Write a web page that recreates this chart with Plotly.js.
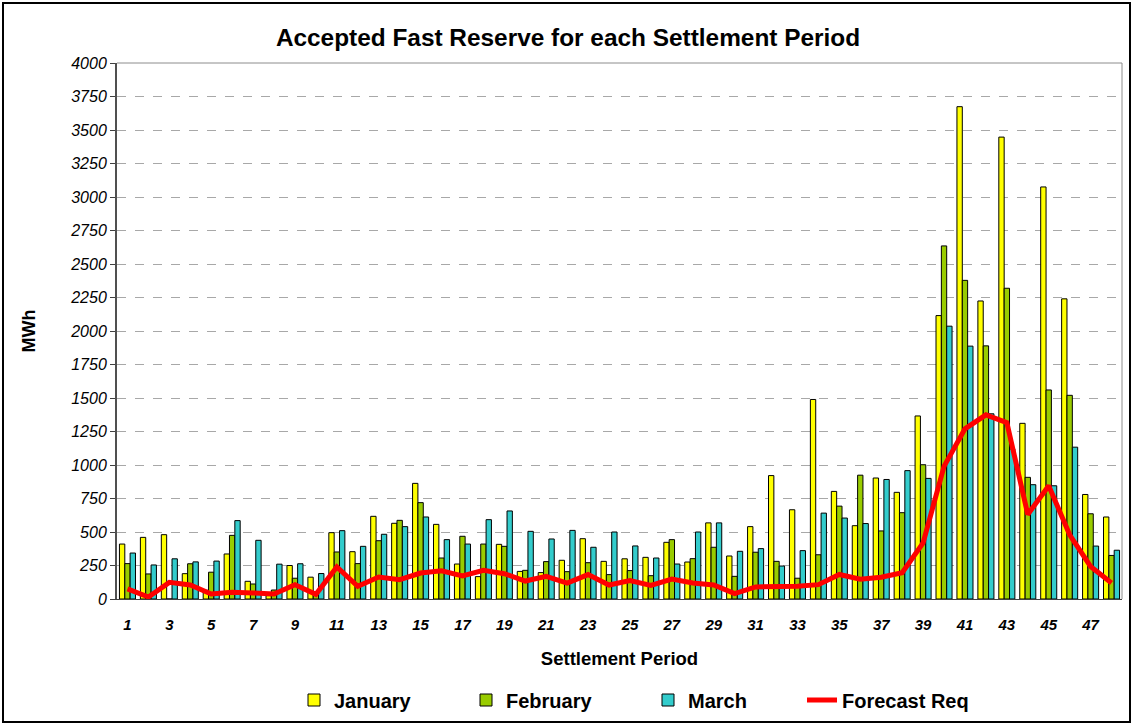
<!DOCTYPE html>
<html>
<head>
<meta charset="utf-8">
<script src="https://cdn.plot.ly/plotly-3.0.1.min.js"></script>
<style>
html,body{margin:0;padding:0;background:#fff;}
#chart{width:1132px;height:724px;}
</style>
</head>
<body>
<div id="chart"></div>
<script>
const periods = [1,2,3,4,5,6,7,8,9,10,11,12,13,14,15,16,17,18,19,20,21,22,23,24,25,26,27,28,29,30,31,32,33,34,35,36,37,38,39,40,41,42,43,44,45,46,47,48];
const tickPeriods = [1,3,5,7,9,11,13,15,17,19,21,23,25,27,29,31,33,35,37,39,41,43,45,47];
const tickLabels = ["1","3","5","7","9","11","13","15","17","19","21","23","25","27","29","31","33","35","37","39","41","43","45","47"];
const boundaries = [0.5,1.5,2.5,3.5,4.5,5.5,6.5,7.5,8.5,9.5,10.5,11.5,12.5,13.5,14.5,15.5,16.5,17.5,18.5,19.5,20.5,21.5,22.5,23.5,24.5,25.5,26.5,27.5,28.5,29.5,30.5,31.5,32.5,33.5,34.5,35.5,36.5,37.5,38.5,39.5,40.5,41.5,42.5,43.5,44.5,45.5,46.5,47.5,48.5];

const january = [410,460,480,189,65,336,132,25,250,163,495,353,617,565,863,557,261,167,408,206,197,289,450,281,300,311,423,276,568,321,540,921,666,1489,803,547,903,796,1366,2115,3674,2224,3447,1311,3075,2240,780,612];
const february = [264,187,0,263,200,475,112,67,155,30,351,264,435,587,719,306,468,410,393,214,279,204,271,182,212,174,443,301,386,169,349,281,155,330,693,924,508,644,1002,2635,2378,1889,2319,908,1560,1520,636,325];
const march = [343,254,300,277,283,585,438,260,263,190,510,393,483,540,612,443,410,592,657,505,448,512,386,500,396,306,261,500,568,356,376,246,361,641,604,563,892,958,900,2036,1887,1382,1120,853,845,1133,395,364];
const forecastReq = [75,15,124,104,37,50,45,37,107,35,239,95,164,144,194,211,172,214,189,134,169,119,182,104,138,102,149,120,105,40,90,90,95,107,183,147,162,196,419,990,1270,1374,1316,631,845,479,243,120];

const FONT = '"Liberation Sans", Arial, sans-serif';

const traces = [
  {type:'bar', name:'January', x:periods, y:january, legend:'legend',
   marker:{color:'#FFFF00', line:{color:'#000', width:1}}},
  {type:'bar', name:'February', x:periods, y:february, legend:'legend2',
   marker:{color:'#99CC00', line:{color:'#000', width:1}}},
  {type:'bar', name:'March', x:periods, y:march, legend:'legend3',
   marker:{color:'#33CCCC', line:{color:'#000', width:1}}},
  {type:'scatter', mode:'lines', name:'Forecast Req', x:periods, y:forecastReq, legend:'legend4',
   line:{color:'#FF0000', width:5}}
];

function leg(xpx){
  return {orientation:'h', xref:'container', yref:'container', x:xpx/1132, y:1-700/724,
          xanchor:'left', yanchor:'middle', bgcolor:'rgba(0,0,0,0)',
          font:{family:FONT, size:20, color:'#000', weight:'bold'}};
}

const W=1132, H=724, L=117, R=10, T=63, B=125;
const pw = W-L-R, ph = H-T-B;
function px2x(p){return (p-L)/pw;}
function py2y(p){return (H-B-p)/ph;}

const layout = {
  width:W, height:H,
  margin:{l:L, r:R, t:T, b:B, pad:0},
  paper_bgcolor:'#fff', plot_bgcolor:'#fff',
  font:{family:FONT, color:'#000'},
  title:{text:'<b>Accepted Fast Reserve for each Settlement Period</b>', font:{family:FONT, size:24.4, color:'#000'},
         xref:'container', yref:'container', x:568/1132, y:1-37/724, xanchor:'center', yanchor:'middle'},
  barmode:'group', bargap:0.234, bargroupgap:0,
  xaxis:{type:'linear', range:[0.5,48.5], tickvals:tickPeriods, ticktext:tickLabels,
         ticks:'', ticklabelstandoff:12, showgrid:false, zeroline:false,
         showline:true, linecolor:'#404040', linewidth:1,
         tickfont:{family:FONT, size:15, color:'#000', weight:'bold', style:'italic'},
         title:{text:'<b>Settlement Period</b>', font:{family:FONT, size:18.5, color:'#000'}, standoff:20},
         fixedrange:true},
  xaxis2:{type:'linear', range:[0.5,48.5], overlaying:'x', anchor:'y', side:'bottom',
          tickvals:boundaries, ticks:'outside', ticklen:5, tickcolor:'#404040', tickwidth:1,
          showticklabels:false, showgrid:false, zeroline:false, showline:false},
  yaxis:{range:[0,4000], dtick:250, tick0:0, tickformat:'d',
         ticks:'outside', ticklen:5, tickcolor:'#404040',
         showline:true, linecolor:'#505050', linewidth:2,
         showgrid:true, gridcolor:'#a8a8a8', griddash:'dash', gridwidth:1, zeroline:false,
         tickfont:{family:FONT, size:16, color:'#000', style:'italic'},
         title:{text:'<b>MWh</b>', font:{family:FONT, size:18, color:'#000'}, standoff:30},
         fixedrange:true},
  legend:leg(294),
  legend2:leg(466),
  legend3:leg(648),
  legend4:leg(802),
  shapes:[
    {type:'line', xref:'paper', yref:'paper', x0:0, x1:1, y0:1, y1:1, line:{color:'#8c8c8c', width:1}},
    {type:'line', xref:'paper', yref:'paper', x0:1, x1:1, y0:0, y1:1, line:{color:'#8c8c8c', width:1}},
    {type:'rect', xref:'paper', yref:'paper', x0:px2x(3), x1:px2x(1130), y0:py2y(3), y1:py2y(722),
     line:{color:'#000', width:2}, fillcolor:'rgba(0,0,0,0)'}
  ],
  showlegend:true
};

Plotly.newPlot('chart', traces, layout, {displayModeBar:false, staticPlot:true});
</script>
</body>
</html>
